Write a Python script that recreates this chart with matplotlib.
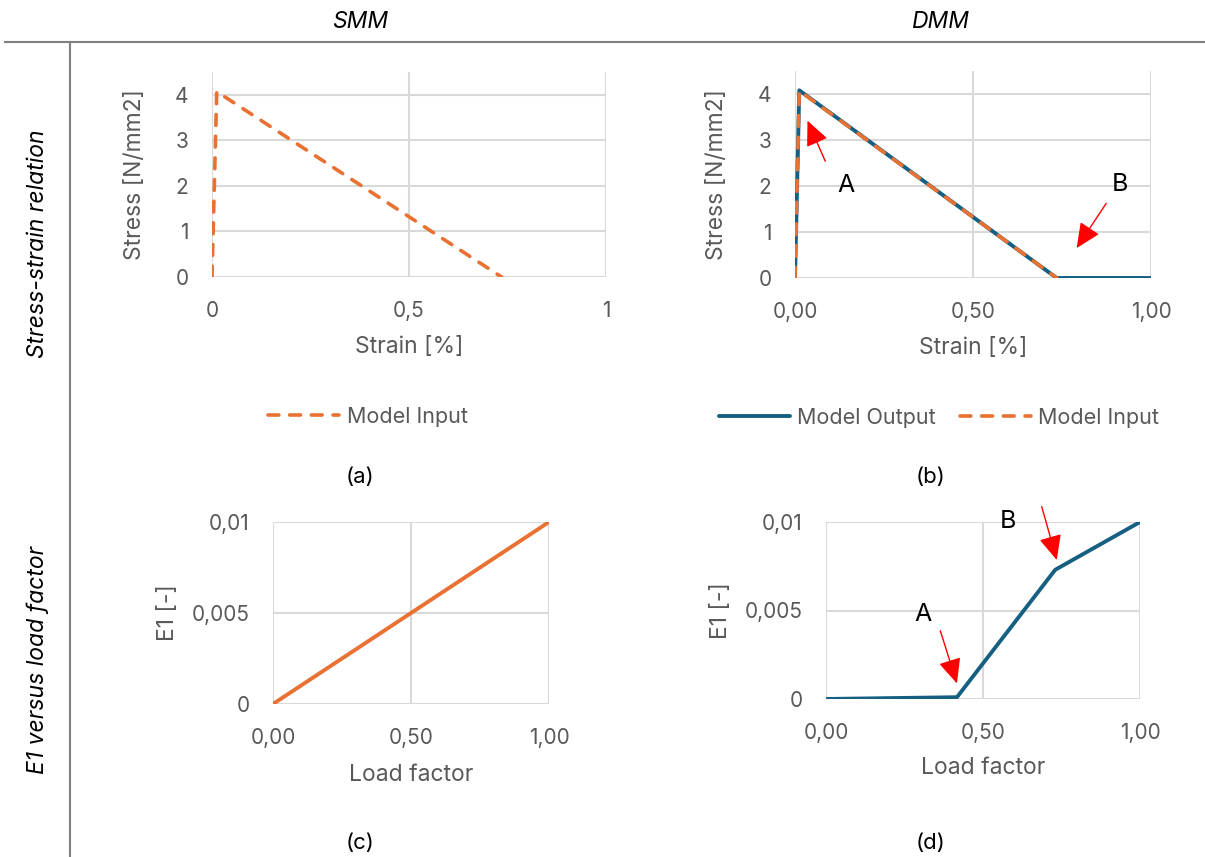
import matplotlib.pyplot as plt
from matplotlib.lines import Line2D

plt.rcParams['font.family'] = ['Inter', 'DejaVu Sans']

# stress-strain data
strain_input = [0.0, 0.012, 0.735]
stress_input = [0.0, 4.07, 0.0]
strain_output = [0.0, 0.012, 0.735, 1.0]
stress_output = [0.0, 4.08, 0.0, 0.0]

# E1 vs load factor
load_smm = [0.0, 1.0]
e1_smm = [0.0, 0.01]
load_dmm = [0.0, 0.417, 0.73, 1.0]
e1_dmm = [0.0, 0.0001, 0.0073, 0.01]

ORANGE = "#E97132"
BLUE = "#156082"
GRID = "#d9d9d9"
TXT = "#595959"

W, H = 1205, 857
fig = plt.figure(figsize=(W / 100, H / 100), dpi=100)


def box(l, t, r, b):
    return [l / W, 1 - b / H, (r - l) / W, (b - t) / H]


def comma(fmt):
    return lambda v, _: (fmt % v).replace(".", ",")


def style(ax, xlabel, ylabel, xl, yl):
    for s in ax.spines.values():
        s.set_visible(False)
    ax.grid(True, color=GRID, lw=1.5)
    ax.set_axisbelow(True)
    ax.tick_params(length=0, labelsize=15, labelcolor=TXT, pad=17)
    ax.set_xlabel(xlabel, fontsize=16.5, color=TXT, va="center")
    ax.set_ylabel(ylabel, fontsize=16.5, color=TXT, va="center")
    ax.xaxis.set_label_coords(0.5, xl)
    ax.yaxis.set_label_coords(yl, 0.5)


dash = dict(color=ORANGE, lw=2.6, ls=(0, (3.0, 3.0)), dash_capstyle="round")
solid = dict(color=BLUE, lw=2.8, solid_capstyle="round")
arrow = dict(arrowstyle="-|>,head_length=0.55,head_width=0.25", color="red", lw=1.0,
             mutation_scale=28, shrinkA=0, shrinkB=0)

# (a) SMM stress-strain
ax = fig.add_axes(box(212, 72, 606, 277))
ax.plot(strain_input, stress_input, **dash)
ax.set_xlim(0, 1)
ax.set_ylim(0, 4.5)
ax.set_xticks([0, 0.5, 1])
ax.set_yticks([0, 1, 2, 3, 4])
ax.xaxis.set_major_formatter(comma("%g"))
style(ax, "Strain [%]", "Stress [N/mm2]", -0.341, -0.195)

# (b) DMM stress-strain
ax = fig.add_axes(box(795, 71, 1151, 278))
ax.plot(strain_output, stress_output, **solid)
ax.plot(strain_input, stress_input, **dash)
ax.set_xlim(0, 1)
ax.set_ylim(0, 4.5)
ax.set_xticks([0, 0.5, 1])
ax.set_yticks([0, 1, 2, 3, 4])
ax.xaxis.set_major_formatter(comma("%.2f"))
style(ax, "Strain [%]", "Stress [N/mm2]", -0.338, -0.219)
ax.annotate("", xy=(0.035, 3.42), xytext=(0.085, 2.54), arrowprops=arrow)
ax.annotate("", xy=(0.791, 0.65), xytext=(0.874, 1.62), arrowprops=arrow)
ax.text(0.142, 2.0, "A", fontsize=18, ha="center", va="center")
ax.text(0.913, 2.03, "B", fontsize=18, ha="center", va="center")

# (c) SMM E1
ax = fig.add_axes(box(273, 522, 549, 704))
ax.plot(load_smm, e1_smm, color=ORANGE, lw=2.8, solid_capstyle="round")
ax.set_xlim(0, 1)
ax.set_ylim(0, 0.01)
ax.set_xticks([0, 0.5, 1])
ax.set_yticks([0, 0.005, 0.01])
ax.xaxis.set_major_formatter(comma("%.2f"))
ax.yaxis.set_major_formatter(comma("%g"))
style(ax, "Load factor", "E1 [-]", -0.39, -0.38)

# (d) DMM E1
ax = fig.add_axes(box(826, 522, 1140, 699))
ax.plot(load_dmm, e1_dmm, **solid)
ax.set_xlim(0, 1)
ax.set_ylim(0, 0.01)
ax.set_xticks([0, 0.5, 1])
ax.set_yticks([0, 0.005, 0.01])
ax.xaxis.set_major_formatter(comma("%.2f"))
ax.yaxis.set_major_formatter(comma("%g"))
style(ax, "Load factor", "E1 [-]", -0.39, -0.335)
ax.annotate("", xy=(0.417, 0.00088), xytext=(0.364, 0.00386), arrowprops=arrow,
            annotation_clip=False)
ax.annotate("", xy=(0.735, 0.00785), xytext=(0.687, 0.01087), arrowprops=arrow,
            annotation_clip=False)
ax.text(0.308, 0.00475, "A", fontsize=18, ha="center", va="center")
ax.text(0.578, 0.0100, "B", fontsize=18, ha="center", va="center")

# legends
h_in = Line2D([], [], **dash)
h_out = Line2D([], [], **solid)
fig.legend([h_in], ["Model Input"], loc="center", bbox_to_anchor=(368 / W, 1 - 417 / H),
           frameon=False, handlelength=3.3, handletextpad=0.35, fontsize=15.5, labelcolor=TXT)
fig.legend([h_out, h_in], ["Model Output", "Model Input"], loc="center",
           bbox_to_anchor=(939 / W, 1 - 418 / H), ncol=2, frameon=False,
           handlelength=3.3, handletextpad=0.35, columnspacing=1.1, fontsize=15.5,
           labelcolor=TXT)

# table frame and headings
fig.add_artist(Line2D([5 / W, 1], [1 - 42 / H] * 2, color="#808080", lw=1.5))
fig.add_artist(Line2D([70 / W] * 2, [1 - 42 / H, 0], color="#808080", lw=1.5))
fig.text(360 / W, 1 - 22 / H, "SMM", fontsize=16.5, style="italic", ha="center", va="center")
fig.text(940 / W, 1 - 22 / H, "DMM", fontsize=16.5, style="italic", ha="center", va="center")
fig.text(38 / W, 1 - 244 / H, "Stress-strain relation", fontsize=16.5, style="italic",
         rotation=90, ha="center", va="center")
fig.text(38 / W, 1 - 660 / H, "E1 versus load factor", fontsize=16.5, style="italic",
         rotation=90, ha="center", va="center")
for lab, x, y in [("(a)", 360, 477), ("(b)", 931, 477), ("(c)", 360, 843), ("(d)", 931, 843)]:
    fig.text(x / W, 1 - y / H, lab, fontsize=16, ha="center", va="center")

fig.savefig("out.png", dpi=100)
